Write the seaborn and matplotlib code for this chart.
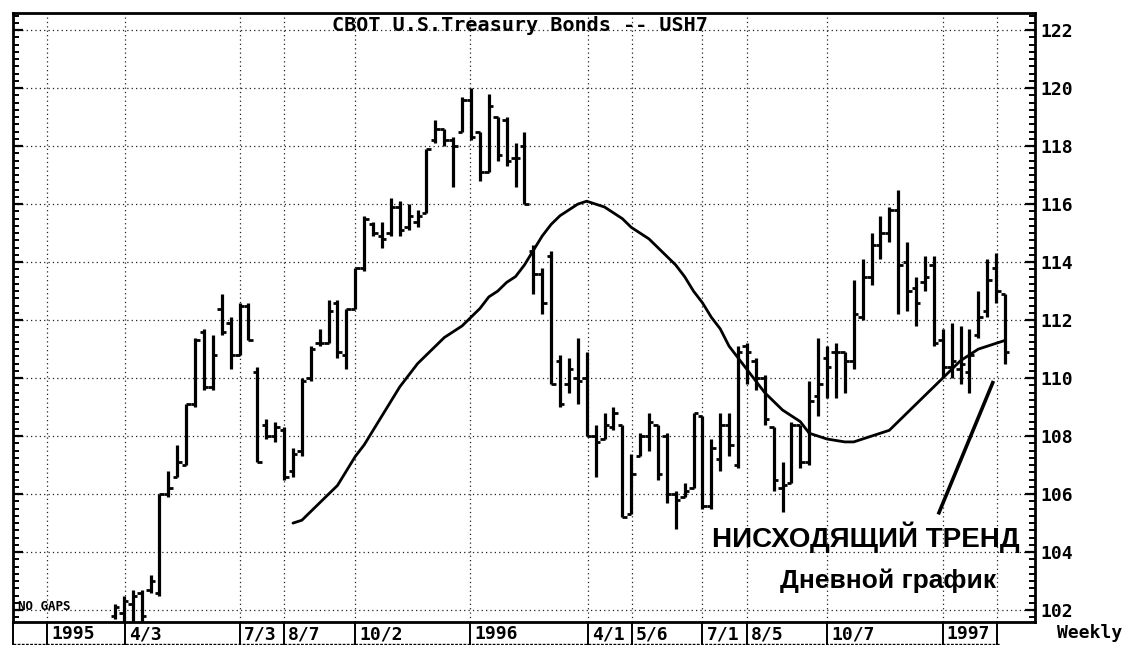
import numpy as np
import pandas as pd
import matplotlib
matplotlib.use("Agg")
import matplotlib.pyplot as plt
import matplotlib.transforms as mtransforms
from matplotlib.ticker import MultipleLocator
import seaborn as sns

# weekly bars (open, high, low, close)
opens = [101.8, 101.9, 102.2, 102.6, 102.7, 102.6, 106.0, 106.6, 107.0, 109.1,
         111.6, 109.7, 112.4, 111.9, 110.8, 112.5, 110.2, 108.4, 108.0, 108.2,
         106.8, 107.5, 110.0, 111.2, 111.2, 112.6, 110.8, 112.4, 113.8, 115.3,
         114.9, 115.0, 115.9, 115.2, 115.4, 115.7, 118.2, 118.6, 118.2, 118.5,
         119.6, 118.5, 117.1, 119.0, 118.9, 117.6, 118.0, 114.4, 113.6, 114.2,
         110.6, 109.8, 110.0, 110.0, 108.0, 107.9, 108.3, 108.4, 105.3, 107.3,
         108.0, 108.4, 108.0, 106.0, 105.9, 106.2, 108.7, 105.6, 107.2, 108.4,
         107.0, 111.1, 110.6, 110.0, 108.3, 106.2, 106.4, 108.4, 107.1, 109.4,
         110.7, 110.9, 110.9, 110.6, 112.1, 113.5, 114.6, 115.0, 115.8, 114.0,
         113.1, 113.3, 113.9, 111.3, 110.4, 110.3, 110.2, 111.5, 112.3, 113.8,
         112.9]
highs = [102.2, 102.5, 102.7, 102.7, 103.2, 106.0, 106.8, 107.7, 109.1, 111.4,
         111.7, 111.5, 112.9, 112.1, 112.6, 112.6, 110.4, 108.6, 108.5, 108.3,
         107.6, 110.0, 111.1, 111.7, 112.7, 112.7, 112.4, 113.8, 115.6, 115.4,
         115.4, 116.2, 116.1, 116.0, 115.8, 117.9, 118.9, 118.6, 118.3, 119.7,
         120.0, 118.5, 119.8, 119.0, 119.0, 118.1, 118.5, 114.6, 113.8, 114.4,
         110.8, 110.7, 111.4, 110.9, 108.4, 108.8, 109.0, 108.4, 107.4, 108.1,
         108.8, 108.4, 108.1, 106.1, 106.4, 108.8, 108.7, 107.9, 108.8, 108.8,
         111.1, 111.2, 110.7, 110.1, 108.3, 107.1, 108.5, 108.4, 109.9, 111.4,
         111.1, 111.2, 110.9, 113.4, 114.1, 115.0, 115.6, 115.9, 116.5, 114.7,
         113.5, 114.2, 114.2, 111.7, 111.9, 111.8, 111.7, 113.0, 114.1, 114.3,
         112.9]
lows = [101.7, 101.6, 101.6, 101.5, 102.6, 102.5, 105.9, 106.6, 107.0, 109.0,
        109.6, 109.6, 111.5, 110.3, 110.8, 111.3, 107.1, 107.9, 107.8, 106.5,
        106.6, 107.3, 109.9, 111.1, 111.2, 110.7, 110.3, 112.4, 113.7, 114.9,
        114.5, 114.9, 114.9, 115.1, 115.2, 115.7, 118.1, 118.0, 116.6, 118.5,
        118.2, 116.8, 117.1, 117.5, 117.3, 116.6, 116.0, 112.9, 112.2, 109.8,
        109.0, 109.5, 109.1, 108.0, 106.6, 107.9, 108.2, 105.2, 105.3, 107.3,
        107.5, 106.5, 105.7, 104.8, 105.9, 106.2, 105.5, 105.5, 106.8, 107.3,
        106.9, 109.8, 109.6, 108.4, 106.1, 105.4, 106.4, 106.9, 107.0, 108.7,
        109.3, 109.3, 109.5, 110.3, 112.0, 113.2, 114.1, 114.7, 112.2, 112.3,
        111.8, 113.0, 111.1, 110.0, 110.0, 109.8, 109.5, 111.4, 112.1, 112.6,
        110.5]
closes = [102.1, 102.3, 102.5, 101.8, 103.0, 106.0, 106.2, 107.1, 109.1, 111.3,
          109.7, 110.8, 111.6, 110.8, 112.5, 111.3, 107.1, 108.0, 108.3, 106.6,
          107.4, 109.9, 111.0, 111.2, 112.3, 110.9, 112.4, 113.8, 115.5, 115.0,
          114.8, 115.9, 115.1, 115.6, 115.6, 117.9, 118.6, 118.2, 118.0, 119.6,
          118.3, 117.1, 119.4, 117.7, 117.5, 117.6, 116.0, 113.6, 112.6, 109.8,
          109.1, 110.3, 109.9, 108.0, 107.8, 108.4, 108.8, 105.2, 106.7, 108.0,
          108.5, 106.7, 106.0, 105.8, 106.1, 108.8, 105.6, 107.6, 108.4, 107.7,
          110.9, 110.9, 110.0, 108.6, 106.5, 106.3, 108.4, 107.1, 109.2, 109.8,
          110.4, 110.9, 110.6, 112.2, 113.5, 114.6, 115.0, 115.8, 113.9, 113.0,
          112.6, 113.5, 111.2, 110.4, 110.6, 110.5, 110.8, 112.1, 113.4, 113.0,
          110.9]

# moving average line, starts at week 20
ma_start = 20
ma_values = [105.0, 105.1, 105.4, 105.7, 106.0, 106.3, 106.8, 107.3, 107.7, 108.2,
             108.7, 109.2, 109.7, 110.1, 110.5, 110.8, 111.1, 111.4, 111.6, 111.8,
             112.1, 112.4, 112.8, 113.0, 113.3, 113.5, 113.9, 114.4, 114.9, 115.3,
             115.6, 115.8, 116.0, 116.1, 116.0, 115.9, 115.7, 115.5, 115.2, 115.0,
             114.8, 114.5, 114.2, 113.9, 113.5, 113.0, 112.6, 112.1, 111.7, 111.1,
             110.7, 110.3, 109.9, 109.5, 109.2, 108.9, 108.7, 108.5, 108.1, 108.0,
             107.9, 107.85, 107.8, 107.8, 107.9, 108.0, 108.1, 108.2, 108.5, 108.8,
             109.1, 109.4, 109.7, 110.0, 110.3, 110.6, 110.8, 111.0, 111.1, 111.2,
             111.3]

# date labels along the bottom strip (week index where each box starts)
date_labels = ["1995", "4/3", "7/3", "8/7", "10/2", "1996", "4/1", "5/6",
               "7/1", "8/5", "10/7", "1997", ""]
date_weeks = [-7.6, 1.1, 14.0, 19.0, 27.0, 39.9, 53.1, 58.1, 66.0, 71.0,
              80.0, 93.0, 99.1]

# hand drawn trend line annotation
trend_x = [92.5, 98.7]
trend_y = [105.3, 109.9]

df = pd.DataFrame({"week": np.arange(len(highs)), "open": opens, "high": highs,
                   "low": lows, "close": closes})
ma = pd.DataFrame({"week": np.arange(ma_start, ma_start + len(ma_values)),
                   "ma": ma_values})

sns.set_style("white")
plt.rcParams['font.family'] = ['DejaVu Sans']
plt.rcParams['text.color'] = 'black'
plt.rcParams['xtick.color'] = 'black'
plt.rcParams['ytick.color'] = 'black'
plt.rcParams['axes.labelcolor'] = 'black'

fig = plt.figure(figsize=(11.32, 6.45), dpi=100)
ax = fig.add_axes([13 / 1132, 23 / 645, 1022 / 1132, 609 / 645])

xmin, xmax = -11.46, 103.37
ax.set_xlim(xmin, xmax)
ax.set_ylim(101.59, 122.59)

# dotted grid
grid_kw = dict(color="#222222", lw=0.9, ls=(0, (1, 2.5)), zorder=0)
for v in range(102, 123, 2):
    ax.axhline(v, **grid_kw)
for w in date_weeks:
    ax.axvline(w, **grid_kw)

# OHLC bars
tw = 0.5
ax.vlines(df["week"], df["low"], df["high"], color="black", lw=2.3)
ax.hlines(df["open"], df["week"] - tw, df["week"], color="black", lw=2.0)
ax.hlines(df["close"], df["week"], df["week"] + tw, color="black", lw=2.0)

# moving average
sns.lineplot(data=ma, x="week", y="ma", color="black", lw=2.0, ax=ax)

ax.plot(trend_x, trend_y, color="black", lw=2.6, solid_capstyle="butt")

# axes styling
for s in ax.spines.values():
    s.set_visible(True)
    s.set_color("black")
    s.set_linewidth(2.0)

ax.yaxis.set_major_locator(MultipleLocator(2))
ax.yaxis.set_minor_locator(MultipleLocator(0.25))
ax.tick_params(axis="y", which="both", direction="in", left=True, right=True,
               labelleft=False, labelright=True, color="black")
ax.tick_params(axis="y", which="major", length=7, width=1.6, pad=4)
ax.tick_params(axis="y", which="minor", length=4, width=1.4)
ax.set_yticks(range(102, 123, 2))
ax.set_yticklabels([str(v) for v in range(102, 123, 2)],
                   fontfamily="DejaVu Sans Mono", fontweight="bold", fontsize=13)

# bottom label strip: separators as ticks, labels as text
ax.set_xticks([xmin] + date_weeks)
ax.set_xticklabels([])
ax.tick_params(axis="x", which="major", direction="out", length=17, width=1.4,
               color="black", bottom=True)
offset = mtransforms.ScaledTranslation(4 / 100, 0, fig.dpi_scale_trans)
trans = mtransforms.blended_transform_factory(ax.transData, ax.transAxes) + offset
for w, lab in zip(date_weeks, date_labels):
    ax.text(w, -0.02, lab, transform=trans, ha="left", va="center",
            fontfamily="DejaVu Sans Mono", fontweight="bold", fontsize=13)
ax.set_xlabel("")
ax.set_ylabel("")

fig.add_artist(plt.Line2D([13 / 1132, 1000 / 1132], [1.5 / 645, 1.5 / 645],
                          color="black", lw=1.0, ls=(0, (2, 1))))

fig.text(1057 / 1132, 12 / 645, "Weekly", ha="left", va="center",
         fontfamily="DejaVu Sans Mono", fontweight="bold", fontsize=13)

ax.text(45.5, 122.16, "CBOT U.S.Treasury Bonds -- USH7", ha="center", va="center",
        fontfamily="DejaVu Sans Mono", fontweight="bold", fontsize=14.5)
ax.text(-10.9, 102.14, "NO GAPS", ha="left", va="center",
        fontfamily="DejaVu Sans Mono", fontweight="bold", fontsize=9)

ax.text(67.1, 104.5, "НИСХОДЯЩИЙ ТРЕНД", ha="left", va="center",
        fontfamily="Liberation Sans", fontweight="bold", fontsize=20)
ax.text(74.7, 103.0, "Дневной график", ha="left", va="center",
        fontfamily="Liberation Sans", fontweight="bold", fontsize=19)

fig.savefig("out.png", dpi=100)
